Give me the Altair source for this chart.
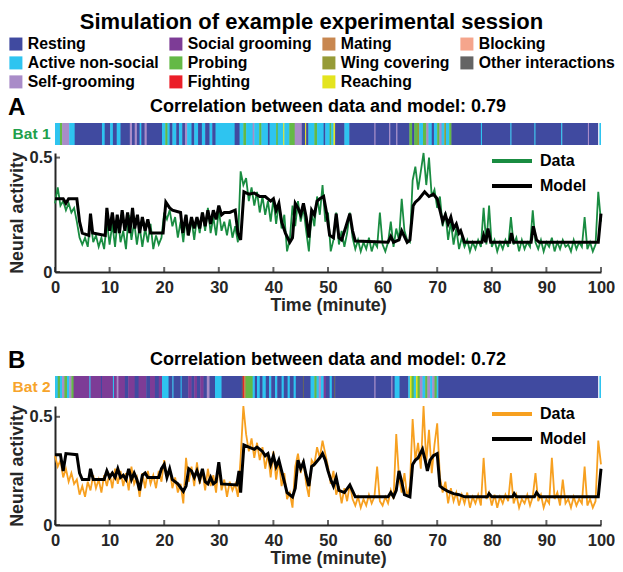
import altair as alt
import pandas as pd

FONT = "Liberation Sans"
AXIS_COLOR = "#262626"

# ---------------- behaviours (column-wise order as in the legend) ----------------
BEHAVIORS = ["Resting", "Active non-social", "Self-grooming",
             "Social grooming", "Probing", "Fighting",
             "Mating", "Wing covering", "Reaching",
             "Blocking", "Other interactions"]
BEHAVIOR_COLORS = ["#404AA0", "#2EC4F0", "#A98CC8",
                   "#7D3C96", "#64B946", "#EB1E28",
                   "#C88750", "#969B37", "#E4E41E",
                   "#F5A58C", "#646464"]

# behaviour segments (start minute, behaviour); each lasts until the next start
SEG_A = [(0.0, "Active non-social"), (0.9, "Probing"), (1.3, "Self-grooming"), (2.6, "Active non-social"),
         (3.6, "Resting"), (8.6, "Active non-social"), (9.1, "Resting"), (10.1, "Active non-social"),
         (10.6, "Resting"), (11.3, "Active non-social"), (12.0, "Resting"), (13.7, "Self-grooming"),
         (14.1, "Resting"), (14.6, "Self-grooming"), (15.0, "Resting"), (15.5, "Active non-social"),
         (15.8, "Resting"), (16.4, "Self-grooming"), (16.8, "Resting"), (19.6, "Active non-social"),
         (20.2, "Probing"), (20.6, "Active non-social"), (21.0, "Resting"), (21.5, "Active non-social"),
         (22.2, "Resting"), (22.7, "Active non-social"), (23.3, "Resting"), (23.8, "Self-grooming"),
         (24.2, "Active non-social"), (25.0, "Resting"), (25.5, "Active non-social"), (26.2, "Resting"),
         (26.9, "Active non-social"), (27.5, "Resting"), (28.3, "Active non-social"), (28.8, "Resting"),
         (29.4, "Active non-social"), (32.9, "Resting"), (33.8, "Active non-social"), (34.5, "Probing"),
         (35.0, "Active non-social"), (36.2, "Self-grooming"), (36.5, "Active non-social"), (37.4, "Probing"),
         (37.8, "Active non-social"), (39.0, "Resting"), (39.3, "Active non-social"), (40.5, "Probing"),
         (40.8, "Active non-social"), (41.8, "Reaching"), (42.0, "Active non-social"), (42.9, "Probing"),
         (43.9, "Self-grooming"), (45.2, "Resting"), (45.8, "Reaching"), (46.0, "Resting"),
         (46.4, "Active non-social"), (47.5, "Probing"), (48.0, "Active non-social"), (49.2, "Resting"),
         (49.5, "Active non-social"), (50.3, "Probing"), (50.6, "Active non-social"), (51.0, "Reaching"),
         (51.3, "Resting"), (53.0, "Active non-social"), (53.9, "Resting"), (58.5, "Self-grooming"),
         (58.7, "Resting"), (61.2, "Self-grooming"), (61.4, "Resting"), (62.5, "Self-grooming"),
         (62.7, "Resting"), (64.9, "Probing"), (65.4, "Resting"), (65.8, "Probing"),
         (66.4, "Wing covering"), (66.7, "Active non-social"), (67.4, "Probing"), (68.0, "Self-grooming"),
         (68.4, "Active non-social"), (69.0, "Resting"), (69.4, "Active non-social"), (70.0, "Probing"),
         (70.4, "Self-grooming"), (70.8, "Active non-social"), (71.3, "Wing covering"), (71.6, "Active non-social"),
         (72.2, "Probing"), (72.6, "Resting"), (78.0, "Active non-social"), (78.2, "Resting"),
         (83.4, "Active non-social"), (83.6, "Resting"), (87.8, "Active non-social"), (88.0, "Resting"),
         (92.7, "Active non-social"), (92.9, "Resting"), (97.6, "Self-grooming"), (97.8, "Resting"),
         (99.4, "gap"), (99.7, "Active non-social")]

SEG_B = [(0.0, "Active non-social"), (0.5, "Probing"), (0.9, "Active non-social"), (1.3, "Self-grooming"),
         (1.7, "Probing"), (2.2, "Active non-social"), (2.6, "Self-grooming"), (3.0, "Probing"),
         (3.4, "Social grooming"), (6.3, "Active non-social"), (6.5, "Social grooming"), (8.4, "Resting"),
         (8.6, "Social grooming"), (10.6, "Active non-social"), (10.8, "Social grooming"), (11.3, "Self-grooming"),
         (11.6, "Social grooming"), (12.8, "Resting"), (13.4, "Social grooming"), (14.6, "Resting"),
         (15.3, "Social grooming"), (16.7, "Resting"), (17.4, "Social grooming"), (18.3, "Resting"),
         (19.0, "Social grooming"), (19.6, "Active non-social"), (20.8, "Resting"), (21.5, "Active non-social"),
         (21.7, "Resting"), (23.0, "Active non-social"), (23.2, "Resting"), (24.4, "Social grooming"),
         (25.0, "Resting"), (25.5, "Social grooming"), (26.0, "Resting"), (26.6, "Social grooming"),
         (27.2, "Resting"), (27.8, "Self-grooming"), (28.3, "Resting"), (29.3, "Active non-social"),
         (30.5, "Resting"), (34.2, "Other interactions"), (34.4, "Fighting"), (34.6, "Mating"),
         (34.9, "Probing"), (36.2, "Active non-social"), (36.6, "Resting"), (37.0, "Active non-social"),
         (37.5, "Resting"), (38.0, "Active non-social"), (38.6, "Resting"), (39.2, "Active non-social"),
         (39.6, "Resting"), (40.3, "Active non-social"), (40.7, "Resting"), (41.5, "Active non-social"),
         (41.9, "Resting"), (42.6, "Active non-social"), (43.0, "Resting"), (43.7, "Active non-social"),
         (44.1, "Resting"), (45.4, "Other interactions"), (45.6, "Resting"), (46.8, "Active non-social"),
         (47.5, "Probing"), (47.9, "Active non-social"), (48.3, "Self-grooming"), (48.7, "Active non-social"),
         (49.2, "Social grooming"), (49.6, "Resting"), (50.3, "Active non-social"), (50.7, "Resting"),
         (51.1, "Other interactions"), (51.3, "Resting"), (58.5, "Self-grooming"), (58.7, "Resting"),
         (61.6, "Self-grooming"), (61.8, "Resting"), (62.2, "Active non-social"), (63.1, "Resting"),
         (64.7, "Active non-social"), (65.0, "Reaching"), (65.3, "Probing"), (65.7, "Active non-social"),
         (66.1, "Reaching"), (66.4, "Probing"), (66.8, "Self-grooming"), (67.3, "Active non-social"),
         (67.8, "Probing"), (68.2, "Self-grooming"), (68.7, "Active non-social"), (69.1, "Self-grooming"),
         (69.5, "Probing"), (69.9, "Active non-social"), (70.2, "Resting"), (99.4, "gap"),
         (99.7, "Active non-social")]
SEG_END = 100.0

# ---------------- neural activity (recorded every 0.5 minute) ----------------
DATA_A = [0.30, 0.37, 0.29, 0.31, 0.27, 0.30, 0.26, 0.28, 0.22, 0.15,
          0.12, 0.15, 0.11, 0.23, 0.13, 0.16, 0.11, 0.15, 0.10, 0.22,
          0.12, 0.21, 0.11, 0.24, 0.13, 0.18, 0.10, 0.25, 0.14, 0.22,
          0.12, 0.20, 0.11, 0.19, 0.13, 0.21, 0.10, 0.16, 0.12, 0.15,
          0.26, 0.23, 0.27, 0.20, 0.24, 0.15, 0.22, 0.13, 0.25, 0.16,
          0.23, 0.14, 0.24, 0.17, 0.26, 0.18, 0.28, 0.17, 0.24, 0.16,
          0.27, 0.18, 0.22, 0.16, 0.23, 0.15, 0.20, 0.13, 0.44, 0.38,
          0.41, 0.31, 0.37, 0.29, 0.35, 0.26, 0.33, 0.25, 0.31, 0.22,
          0.32, 0.21, 0.30, 0.19, 0.25, 0.09, 0.14, 0.29, 0.20, 0.31,
          0.22, 0.28, 0.18, 0.09, 0.26, 0.20, 0.33, 0.25, 0.38, 0.22,
          0.26, 0.09, 0.14, 0.26, 0.12, 0.18, 0.11, 0.17, 0.26, 0.15,
          0.10, 0.14, 0.09, 0.13, 0.10, 0.15, 0.09, 0.13, 0.11, 0.26,
          0.12, 0.09, 0.13, 0.22, 0.11, 0.19, 0.14, 0.32, 0.18, 0.14,
          0.13, 0.40, 0.46, 0.36, 0.44, 0.52, 0.38, 0.50, 0.33, 0.36,
          0.28, 0.33, 0.20, 0.26, 0.14, 0.22, 0.12, 0.19, 0.10, 0.15,
          0.11, 0.14, 0.09, 0.13, 0.10, 0.14, 0.11, 0.28, 0.12, 0.29,
          0.11, 0.14, 0.09, 0.13, 0.10, 0.14, 0.11, 0.24, 0.12, 0.15,
          0.09, 0.14, 0.10, 0.13, 0.11, 0.27, 0.13, 0.10, 0.14, 0.09,
          0.13, 0.11, 0.15, 0.09, 0.13, 0.10, 0.14, 0.11, 0.12, 0.09,
          0.14, 0.10, 0.13, 0.11, 0.24, 0.10, 0.13, 0.09, 0.12, 0.35,
          0.22]

DATA_B = [0.32, 0.27, 0.30, 0.22, 0.26, 0.20, 0.24, 0.19, 0.21, 0.14,
          0.18, 0.13, 0.20, 0.16, 0.23, 0.17, 0.21, 0.15, 0.23, 0.18,
          0.24, 0.17, 0.26, 0.19, 0.25, 0.18, 0.24, 0.16, 0.27, 0.19,
          0.22, 0.13, 0.24, 0.17, 0.25, 0.19, 0.23, 0.17, 0.25, 0.20,
          0.30, 0.22, 0.26, 0.17, 0.22, 0.15, 0.19, 0.10, 0.31, 0.20,
          0.27, 0.18, 0.29, 0.19, 0.25, 0.16, 0.26, 0.18, 0.23, 0.15,
          0.28, 0.16, 0.21, 0.13, 0.20, 0.16, 0.19, 0.13, 0.31, 0.55,
          0.42, 0.34, 0.40, 0.31, 0.38, 0.30, 0.36, 0.26, 0.33, 0.22,
          0.34, 0.21, 0.30, 0.18, 0.24, 0.12, 0.15, 0.08, 0.27, 0.33,
          0.24, 0.30, 0.19, 0.13, 0.30, 0.28, 0.36, 0.31, 0.39, 0.33,
          0.27, 0.19, 0.25, 0.14, 0.18, 0.10, 0.17, 0.11, 0.19, 0.12,
          0.09, 0.13, 0.08, 0.12, 0.09, 0.14, 0.10, 0.13, 0.27, 0.11,
          0.09, 0.13, 0.10, 0.16, 0.12, 0.42, 0.22, 0.15, 0.24, 0.13,
          0.18, 0.49, 0.30, 0.38, 0.26, 0.55, 0.29, 0.44, 0.24, 0.37,
          0.47, 0.22, 0.15, 0.20, 0.10, 0.17, 0.11, 0.15, 0.09, 0.14,
          0.10, 0.15, 0.08, 0.13, 0.10, 0.14, 0.09, 0.31, 0.12, 0.15,
          0.09, 0.14, 0.08, 0.13, 0.10, 0.14, 0.11, 0.24, 0.10, 0.14,
          0.08, 0.12, 0.10, 0.14, 0.09, 0.13, 0.24, 0.11, 0.14, 0.08,
          0.12, 0.10, 0.31, 0.12, 0.15, 0.09, 0.21, 0.10, 0.12, 0.08,
          0.13, 0.09, 0.12, 0.10, 0.27, 0.09, 0.12, 0.08, 0.11, 0.39,
          0.28]
DATA_STEP = 0.5

# model output (minute, activity)
MODEL_A = [(0, 0.32), (1.5, 0.32), (2, 0.30), (2.5, 0.32), (4, 0.32), (4.5, 0.22), (5, 0.17), (6.2, 0.16),
           (6.5, 0.255), (6.9, 0.17), (9.2, 0.16), (9.5, 0.28), (10, 0.18), (10.5, 0.26), (11, 0.17),
           (11.4, 0.25), (11.8, 0.17), (12.3, 0.27), (12.8, 0.18), (13.3, 0.26), (13.7, 0.17), (14.2, 0.28),
           (14.6, 0.19), (15.1, 0.25), (15.5, 0.17), (16, 0.24), (16.5, 0.18), (17, 0.23), (17.5, 0.17),
           (19.8, 0.17), (20.3, 0.305), (21, 0.28), (21.5, 0.27), (23, 0.26), (23.4, 0.17), (24, 0.25),
           (24.4, 0.16), (25, 0.24), (25.5, 0.19), (26, 0.24), (26.5, 0.19), (27, 0.26), (27.5, 0.20),
           (28, 0.27), (28.5, 0.21), (29, 0.27), (29.5, 0.23), (30, 0.29), (30.5, 0.25), (31, 0.26),
           (32, 0.26), (33, 0.27), (33.5, 0.17), (34, 0.14), (34.6, 0.35), (35.5, 0.34), (36.5, 0.345),
           (37.5, 0.33), (38.5, 0.33), (39.5, 0.31), (40, 0.32), (40.5, 0.27), (41, 0.30), (41.5, 0.22),
           (42.2, 0.17), (43, 0.13), (43.5, 0.15), (44, 0.30), (44.5, 0.28), (45, 0.25), (45.5, 0.30),
           (46, 0.24), (46.5, 0.15), (47, 0.27), (47.5, 0.25), (48, 0.31), (48.5, 0.32), (49.2, 0.33),
           (49.8, 0.25), (50.3, 0.16), (51, 0.15), (51.5, 0.255), (52, 0.15), (52.5, 0.14), (53.3, 0.20),
           (54, 0.255), (54.5, 0.18), (55, 0.135), (61, 0.13), (61.5, 0.155), (62, 0.13), (63, 0.14),
           (63.5, 0.18), (64.5, 0.13), (65, 0.14), (65.6, 0.29), (66, 0.305), (66.7, 0.32), (67.7, 0.35),
           (68.5, 0.33), (69.3, 0.34), (70, 0.32), (70.5, 0.27), (71, 0.22), (71.5, 0.25), (72, 0.21),
           (72.5, 0.24), (73, 0.19), (73.5, 0.21), (74, 0.17), (74.3, 0.18), (75, 0.13), (78.2, 0.13),
           (78.5, 0.16), (78.9, 0.13), (79.3, 0.19), (79.8, 0.13), (83.3, 0.13), (83.6, 0.17), (84, 0.13),
           (87.2, 0.13), (87.6, 0.20), (88.2, 0.14), (88.7, 0.13), (99.5, 0.13), (100, 0.255)]

MODEL_B = [(0, 0.325), (1, 0.325), (1.5, 0.25), (2, 0.33), (4, 0.325), (4.5, 0.24), (5, 0.21), (6.2, 0.21),
           (6.5, 0.26), (7, 0.21), (9, 0.21), (9.5, 0.25), (10, 0.22), (10.5, 0.24), (11, 0.22), (11.5, 0.26),
           (12, 0.22), (12.5, 0.23), (13, 0.21), (13.5, 0.26), (14, 0.21), (14.5, 0.24), (15, 0.21),
           (15.5, 0.16), (16, 0.23), (16.5, 0.24), (17, 0.22), (18, 0.22), (19, 0.22), (19.5, 0.26),
           (20, 0.28), (20.5, 0.22), (21, 0.26), (21.5, 0.21), (22.5, 0.19), (23.5, 0.155), (24, 0.18),
           (24.5, 0.26), (25, 0.25), (25.5, 0.22), (26, 0.25), (26.5, 0.21), (27, 0.26), (27.5, 0.20),
           (28, 0.19), (28.5, 0.22), (29, 0.19), (29.5, 0.20), (30, 0.29), (30.5, 0.19), (33.3, 0.185),
           (33.7, 0.25), (34, 0.15), (34.6, 0.37), (35.5, 0.36), (36.5, 0.35), (37, 0.36), (38, 0.34),
           (38.5, 0.32), (39, 0.33), (39.5, 0.28), (40, 0.32), (40.5, 0.27), (41, 0.30), (41.5, 0.25),
           (42, 0.20), (42.5, 0.15), (43.5, 0.13), (44, 0.17), (44.5, 0.30), (45, 0.26), (45.5, 0.29),
           (46, 0.23), (46.5, 0.18), (47, 0.27), (47.5, 0.28), (48.5, 0.31), (49, 0.33), (49.5, 0.30),
           (50, 0.25), (50.5, 0.21), (51, 0.18), (51.5, 0.22), (52, 0.16), (53, 0.15), (54, 0.185),
           (55, 0.13), (61, 0.13), (61.5, 0.15), (62, 0.13), (62.5, 0.16), (63, 0.25), (63.5, 0.20),
           (64, 0.14), (65, 0.13), (65.5, 0.28), (66, 0.30), (66.5, 0.31), (67.3, 0.35), (67.8, 0.30),
           (68.2, 0.25), (68.7, 0.30), (69.3, 0.32), (70, 0.33), (70.5, 0.18), (71, 0.17), (72, 0.155),
           (73, 0.145), (74, 0.14), (75, 0.13), (79.2, 0.13), (79.5, 0.145), (80, 0.13), (83.8, 0.13),
           (84.1, 0.145), (84.5, 0.13), (87.8, 0.13), (88.2, 0.15), (88.8, 0.13), (99.5, 0.13), (100, 0.26)]

X_TICKS = [0, 10, 20, 30, 40, 50, 60, 70, 80, 90, 100]
Y_TICKS = [0, 0.5]

PLOT_W = 546
PLOT_H = 119
STRIP_H = 22

# legend reads column-wise (3 rows x 4 columns); Vega fills row-wise, so reorder
N_ROWS = 3
N_COLS = 4
LEGEND_ORDER = [BEHAVIORS[c * N_ROWS + r] for r in range(N_ROWS) for c in range(N_COLS)
                if c * N_ROWS + r < len(BEHAVIORS)]
LEGEND_COLORS = [BEHAVIOR_COLORS[BEHAVIORS.index(b)] for b in LEGEND_ORDER]

# short line glyph for the Data/Model legend (drawn left of the symbol anchor)
LINE_GLYPH = "M-7,0L1,0"


def strip_chart(segs, bat, bat_color, title, show_legend):
    rows = []
    for i, (s, b) in enumerate(segs):
        e = segs[i + 1][0] if i + 1 < len(segs) else SEG_END
        if b == "gap":
            continue
        rows.append({"start": s, "end": min(e + 0.08, SEG_END), "beh": b, "bat": bat})
    df = pd.DataFrame(rows)
    legend = None
    if show_legend:
        legend = alt.Legend(title=None, orient="none", legendX=-47, legendY=-87, columns=N_COLS,
                            direction="horizontal",
                            symbolType="square", symbolSize=170, symbolStrokeWidth=0,
                            labelFont=FONT, labelFontSize=15.8, labelFontWeight="bold",
                            labelColor="black", labelOffset=4, columnPadding=9, rowPadding=2,
                            gridAlign="each", labelLimit=300)
    return alt.Chart(df).mark_rect().encode(
        x=alt.X("start:Q", scale=alt.Scale(domain=[0, 100], nice=False, zero=False), axis=None),
        x2="end:Q",
        y=alt.Y("bat:N", scale=alt.Scale(paddingInner=0, paddingOuter=0),
                axis=alt.Axis(title=None, domain=False, ticks=False, labelFont=FONT,
                              labelFontSize=15.5, labelFontWeight="bold", labelColor=bat_color,
                              labelPadding=5)),
        fill=alt.Fill("beh:N", scale=alt.Scale(domain=LEGEND_ORDER, range=LEGEND_COLORS), legend=legend),
    ).properties(width=PLOT_W, height=STRIP_H,
                 title=alt.TitleParams(title, font=FONT, fontSize=18, fontWeight="bold",
                                       color="black", anchor="middle", offset=7))


def line_chart(data_vals, model_pts, color, ymax):
    d1 = pd.DataFrame({"t": [i * DATA_STEP for i in range(len(data_vals))], "v": data_vals, "series": "Data"})
    d2 = pd.DataFrame({"t": [p[0] for p in model_pts], "v": [p[1] for p in model_pts], "series": "Model"})
    df = pd.concat([d1, d2], ignore_index=True)
    x_enc = alt.X("t:Q", scale=alt.Scale(domain=[0, 100], nice=False),
                  axis=alt.Axis(values=X_TICKS, title="Time (minute)", labelFlush=False,
                                labelPadding=7, titlePadding=1, labelFontSize=16.5, titleFontSize=17.8))
    y_enc = alt.Y("v:Q", scale=alt.Scale(domain=[0, ymax], nice=False, zero=True),
                  axis=alt.Axis(values=Y_TICKS, format="~g", title="Neural activity", labelPadding=3,
                                titlePadding=3, labelFontSize=16.5, titleFontSize=17.8))
    stroke_scale = alt.Scale(domain=["Data", "Model"], range=[color, "black"])
    legend = alt.Legend(title=None, orient="none", legendX=464, legendY=0, symbolType=LINE_GLYPH,
                        symbolStrokeWidth=4, symbolSize=100, labelFont=FONT, labelFontSize=16,
                        labelFontWeight="bold", labelColor="black", labelOffset=5, rowPadding=9)
    base = alt.Chart(df)
    data_line = base.transform_filter(alt.datum.series == "Data").mark_line(strokeWidth=1.8).encode(
        x=x_enc, y=y_enc, stroke=alt.Stroke("series:N", scale=stroke_scale, legend=legend))
    model_line = base.transform_filter(alt.datum.series == "Model").mark_line(strokeWidth=3).encode(
        x=x_enc, y=y_enc, stroke=alt.Stroke("series:N", scale=stroke_scale, legend=legend))
    xt = alt.Chart(pd.DataFrame({"t": X_TICKS, "v": [0] * len(X_TICKS)})).mark_tick(
        orient="vertical", size=5, thickness=2, yOffset=-2.5, color=AXIS_COLOR).encode(x=x_enc, y=y_enc)
    yt = alt.Chart(pd.DataFrame({"t": [0] * len(Y_TICKS), "v": Y_TICKS})).mark_tick(
        orient="horizontal", size=5, thickness=2, xOffset=2.5, color=AXIS_COLOR).encode(x=x_enc, y=y_enc)
    return alt.layer(data_line, model_line, xt, yt).properties(width=PLOT_W, height=PLOT_H)


def panel(letter, segs, bat, bat_color, corr, data_vals, model_pts, color, ymax, show_legend):
    strip = strip_chart(segs, bat, bat_color, f"Correlation between data and model: {corr}", show_legend)
    lines = line_chart(data_vals, model_pts, color, ymax)
    return alt.vconcat(strip, lines, spacing=4).resolve_scale(stroke="independent").resolve_legend(
        stroke="independent").properties(
        title=alt.TitleParams(letter, font=FONT, fontSize=24, fontWeight="bold", color="black",
                              anchor="start", frame="bounds", offset=-22))


panel_a = panel("A", SEG_A, "Bat 1", "#21A04B", "0.79", DATA_A, MODEL_A, "#198C41", 0.52, True)
panel_b = panel("B", SEG_B, "Bat 2", "#F7A42B", "0.72", DATA_B, MODEL_B, "#F7A020", 0.55, False)

chart = alt.vconcat(panel_a, panel_b, spacing=34).resolve_scale(stroke="independent").resolve_legend(
    stroke="independent").properties(
    padding={"top": 3, "left": 0, "right": 0, "bottom": 0},
    title=alt.TitleParams("Simulation of example experimental session", font=FONT, fontSize=22,
                          fontWeight="bold", color="black", anchor="middle", frame="bounds", offset=2),
).configure_view(stroke=None).configure_axis(
    labelFont=FONT, titleFont=FONT, labelFontWeight="bold", titleFontWeight="bold",
    labelColor=AXIS_COLOR, titleColor=AXIS_COLOR, domainColor=AXIS_COLOR, domainWidth=2,
    grid=False, ticks=False)

chart.save("out.html", embed_options={"renderer": "svg", "actions": False})
